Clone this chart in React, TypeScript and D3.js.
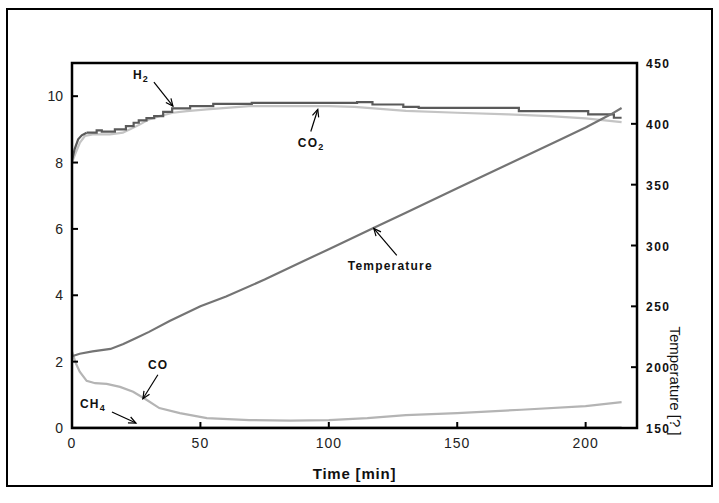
import React from "react";
import * as d3 from "d3";

// time axis [min]
const h2Time = [0, 1, 2.4, 3.8, 5.7, 9.6, 11.6, 16.7, 21, 24, 26, 29, 32, 35.5, 39, 46, 55, 70, 111, 117, 129, 135, 174, 201, 211, 214];
const h2Value = [8.05, 8.4, 8.7, 8.82, 8.9, 8.97, 8.93, 9.0, 9.1, 9.2, 9.27, 9.34, 9.4, 9.53, 9.63, 9.7, 9.77, 9.8, 9.82, 9.75, 9.68, 9.65, 9.55, 9.45, 9.35, 9.35];
// analyser readings become stepped after the first few minutes
const h2StepFrom = 4;

const co2Time = [0, 1.2, 3.1, 5, 8, 14.8, 19.8, 22.6, 26.5, 30, 34, 39.3, 44.7, 52.5, 62.6, 69, 100, 110, 120, 130, 150, 170, 186, 200, 214];
const co2Value = [8.0, 8.25, 8.6, 8.8, 8.85, 8.85, 8.9, 9.0, 9.15, 9.3, 9.4, 9.5, 9.55, 9.6, 9.66, 9.7, 9.7, 9.68, 9.62, 9.56, 9.5, 9.45, 9.4, 9.33, 9.22];

const coTime = [0, 1.5, 3, 5.7, 9, 13.5, 18.7, 23.8, 29, 34, 42, 52.5, 69, 85, 100, 115, 130, 150, 175, 200, 214];
const coValue = [2.3, 1.95, 1.7, 1.42, 1.35, 1.33, 1.24, 1.09, 0.85, 0.6, 0.45, 0.3, 0.24, 0.22, 0.24, 0.3, 0.39, 0.45, 0.55, 0.66, 0.78];

const ch4Time = [0, 50, 100, 150, 214];
const ch4Value = [0.02, 0.02, 0.02, 0.02, 0.02];

const tempTime = [0, 3, 8, 15, 20, 25, 30, 38, 50, 60, 75, 90, 100, 118, 130, 150, 170, 190, 200, 210, 214];
const tempValue = [209, 211, 213, 215, 219, 224, 229, 238, 250, 258, 272, 287, 297, 315, 327, 347, 367, 387, 397, 408, 413];

const xTicks = [0, 50, 100, 150, 200];
const leftTicks = [0, 2, 4, 6, 8, 10];
const rightTicks = [150, 200, 250, 300, 350, 400, 450];

const FONT = "'Liberation Sans', Arial, sans-serif";

const W = 719;
const H = 503;
const M = { left: 72, top: 63, right: 637, bottom: 428 };

export default function App() {
  const x = d3.scaleLinear().domain([0, 220]).range([M.left, M.right]);
  const yL = d3.scaleLinear().domain([0, 11]).range([M.bottom, M.top]);
  const yR = d3.scaleLinear().domain([150, 450]).range([M.bottom, M.top]);

  const pairs = (t: number[], v: number[]) => t.map((d, i) => [d, v[i]] as [number, number]);

  const lineL = d3.line<[number, number]>().x((d) => x(d[0])).y((d) => yL(d[1]));
  const stepL = d3
    .line<[number, number]>()
    .x((d) => x(d[0]))
    .y((d) => yL(d[1]))
    .curve(d3.curveStepAfter);
  const lineR = d3
    .line<[number, number]>()
    .x((d) => x(d[0]))
    .y((d) => yR(d[1]));

  const h2 = pairs(h2Time, h2Value);

  // annotations: arrow tip in data units, tail / label offsets in px
  const notes = [
    { tip: [x(39.3), yL(9.7)], tail: [-19, -24], label: [-40, -27], main: "H", sub: "2" },
    { tip: [x(95.7), yL(9.6)], tail: [-7, 22], label: [-20, 38], main: "CO", sub: "2" },
    { tip: [x(117.5), yR(314)], tail: [23, 27], label: [-26, 42], main: "Temperature", sub: "" },
    { tip: [x(27.6), yL(0.88)], tail: [15, -24], label: [5, -30], main: "CO", sub: "" },
    { tip: [x(24.9), yL(0.15)], tail: [-24, -11], label: [-56, -15], main: "CH", sub: "4" },
  ];

  const arrowHead = (tx: number, ty: number, fx: number, fy: number) => {
    const a = Math.atan2(ty - fy, tx - fx);
    const len = 8;
    const spread = 0.42;
    const p1 = [tx - len * Math.cos(a - spread), ty - len * Math.sin(a - spread)];
    const p2 = [tx - len * Math.cos(a + spread), ty - len * Math.sin(a + spread)];
    return `M${p1[0]},${p1[1]}L${tx},${ty}L${p2[0]},${p2[1]}`;
  };

  return (
    <svg
      width={W}
      height={H}
      style={{ position: "absolute", left: 0, top: 0, background: "#fff" }}
      fontFamily={FONT}
    >
      <rect x={0} y={0} width={W} height={H} fill="#fff" />
      {/* outer frame */}
      <rect x={7} y={9} width={705} height={477} fill="none" stroke="#000" strokeWidth={2} />

      {/* series */}
      <path d={lineL(pairs(ch4Time, ch4Value)) || ""} fill="none" stroke="#b8b8b8" strokeWidth={2} />
      <path d={lineL(pairs(coTime, coValue)) || ""} fill="none" stroke="#b4b4b4" strokeWidth={2.2} />
      <path d={lineL(pairs(co2Time, co2Value)) || ""} fill="none" stroke="#c4c4c4" strokeWidth={2.2} />
      <path d={lineL(h2.slice(0, h2StepFrom + 1)) || ""} fill="none" stroke="#5a5a5a" strokeWidth={2.2} />
      <path d={stepL(h2.slice(h2StepFrom)) || ""} fill="none" stroke="#5a5a5a" strokeWidth={2.2} />
      <path d={lineR(pairs(tempTime, tempValue)) || ""} fill="none" stroke="#747474" strokeWidth={2.2} />

      {/* plot frame */}
      <rect
        x={M.left}
        y={M.top}
        width={M.right - M.left}
        height={M.bottom - M.top}
        fill="none"
        stroke="#000"
        strokeWidth={2.5}
      />

      {/* bottom axis ticks */}
      {xTicks.map((t) => (
        <g key={"x" + t}>
          <line x1={x(t)} x2={x(t)} y1={M.bottom} y2={M.bottom - 6} stroke="#000" strokeWidth={2} />
          <text x={x(t)} y={448} textAnchor="middle" fontSize={14} letterSpacing={1} fill="#222">
            {t}
          </text>
        </g>
      ))}

      {/* left axis ticks */}
      {leftTicks.map((t) => (
        <g key={"l" + t}>
          <line x1={M.left} x2={M.left + 6} y1={yL(t)} y2={yL(t)} stroke="#000" strokeWidth={2} />
          <text x={63} y={yL(t) + 5} textAnchor="end" fontSize={14} fill="#222">
            {t}
          </text>
        </g>
      ))}

      {/* right axis ticks */}
      {rightTicks.map((t) => (
        <g key={"r" + t}>
          <line x1={M.right} x2={M.right - 6} y1={yR(t)} y2={yR(t)} stroke="#000" strokeWidth={2} />
          <text x={646} y={yR(t) + 5} fontSize={12} fontWeight="bold" letterSpacing={1.5} fill="#111">
            {t}
          </text>
        </g>
      ))}

      {/* axis titles */}
      <text x={(M.left + M.right) / 2} y={479} textAnchor="middle" fontSize={15} fontWeight="bold" letterSpacing={0.8} fill="#111">
        Time [min]
      </text>
      <text
        transform={`translate(670,381) rotate(90)`}
        textAnchor="middle"
        fontSize={15}
        fill="#111"
      >
        Temperature [? ]
      </text>

      {/* annotations */}
      {notes.map((n, i) => {
        const [tx, ty] = n.tip;
        const fx = tx + n.tail[0];
        const fy = ty + n.tail[1];
        return (
          <g key={"n" + i}>
            <line x1={fx} y1={fy} x2={tx} y2={ty} stroke="#000" strokeWidth={1.2} />
            <path d={arrowHead(tx, ty, fx, fy)} fill="none" stroke="#000" strokeWidth={1.2} />
            <text x={tx + n.label[0]} y={ty + n.label[1]} fontSize={12} fontWeight="bold" letterSpacing={1.2} fill="#111">
              {n.main}
              {n.sub && (
                <tspan fontSize={9} dy={3}>
                  {n.sub}
                </tspan>
              )}
            </text>
          </g>
        );
      })}
    </svg>
  );
}
